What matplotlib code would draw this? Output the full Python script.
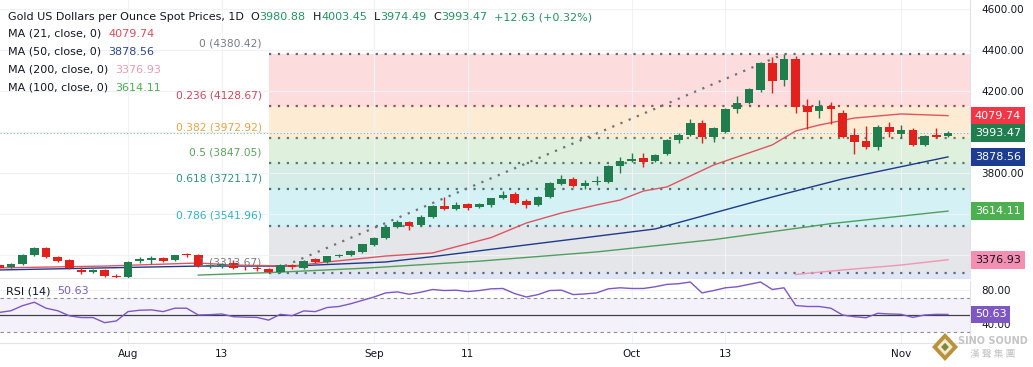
import numpy as np
import matplotlib.pyplot as plt
from matplotlib.patches import Polygon
from matplotlib.transforms import blended_transform_factory

# ---- data (candle index 0 = Aug 1) ----
idx = np.arange(-11, 71)
open_ = [3351, 3342, 3356, 3400, 3434, 3390, 3376, 3327, 3317, 3327, 3296,
         3292, 3371, 3376, 3385, 3376, 3405, 3400, 3346, 3346, 3360,
         3338, 3336, 3332, 3316, 3350, 3338, 3381, 3366, 3395, 3400,
         3414, 3448, 3483, 3536, 3561, 3546, 3585, 3639, 3624, 3649,
         3634, 3644, 3678, 3698, 3663, 3644, 3683, 3746, 3771, 3737,
         3756, 3756, 3834, 3859, 3873, 3858, 3893, 3961, 3985, 4044,
         3976, 4000, 4112, 4141, 4205, 4337, 4254, 4356, 4127, 4102,
         4127, 4093, 3985, 3956, 3927, 4024, 3990, 4010, 3937, 3985,
         3980.88]
high = [3356, 3361, 3405, 3440, 3438, 3395, 3380, 3342, 3333, 3333, 3305,
        3370, 3390, 3395, 3390, 3402, 3412, 3404, 3358, 3362, 3374,
        3345, 3348, 3335, 3354, 3356, 3378, 3384, 3396, 3404, 3424,
        3456, 3489, 3541, 3571, 3566, 3595, 3643, 3683, 3658, 3654,
        3656, 3680, 3710, 3708, 3673, 3687, 3756, 3790, 3780, 3766,
        3785, 3839, 3878, 3897, 3897, 3893, 3968, 3995, 4063, 4058,
        4024, 4117, 4175, 4217, 4342, 4366, 4380.42, 4371, 4161, 4156,
        4146, 4107, 4019, 4029, 4034, 4049, 4034, 4020, 3985, 4020,
        4003.45]
low = [3332, 3336, 3351, 3395, 3385, 3366, 3332, 3307, 3312, 3293, 3283,
       3286, 3361, 3356, 3366, 3372, 3390, 3342, 3335, 3338, 3332,
       3326, 3322, 3313.67, 3314, 3334, 3330, 3362, 3360, 3390, 3395,
       3410, 3445, 3479, 3530, 3522, 3541, 3580, 3619, 3620, 3620,
       3629, 3634, 3673, 3649, 3629, 3639, 3680, 3741, 3732, 3722,
       3742, 3751, 3800, 3854, 3829, 3854, 3888, 3946, 3980, 3946,
       3951, 3995, 4092, 4136, 4195, 4190, 4225, 4093, 4015, 4068,
       4039, 3970, 3893, 3917, 3912, 3976, 3971, 3932, 3932, 3971,
       3974.49]
close = [3337, 3356, 3400, 3434, 3390, 3371, 3337, 3317, 3327, 3298, 3292,
         3366, 3381, 3385, 3371, 3400, 3398, 3346, 3351, 3356, 3338,
         3336, 3333, 3316, 3350, 3340, 3371, 3366, 3394, 3398, 3419,
         3453, 3483, 3537, 3561, 3541, 3585, 3639, 3624, 3644, 3629,
         3649, 3678, 3693, 3654, 3644, 3683, 3751, 3771, 3737, 3751,
         3761, 3834, 3859, 3868, 3854, 3888, 3961, 3985, 4044, 3976,
         4020, 4112, 4141, 4210, 4337, 4249, 4356, 4122, 4098, 4127,
         4112, 3976, 3951, 3927, 4024, 4000, 4010, 3937, 3980, 3976,
         3993.47]

rsi = [53, 55, 61, 65, 58, 55, 49, 47, 47, 41, 43,
       54, 55.6, 56, 54, 58, 58, 50, 50.4, 51.2, 48,
       47.5, 47.2, 44, 50.8, 49.2, 54.8, 54, 58.8, 60, 63.2,
       67.2, 71.2, 76, 77.2, 74.4, 76.8, 80, 78.8, 79.2, 77.6,
       78.8, 80.8, 81.2, 75.2, 71.2, 74, 78.8, 79.2, 74, 74.8,
       76, 80.8, 82, 81.2, 81.2, 83.2, 86, 86.8, 88.8, 76,
       78.8, 82, 83.2, 86, 88.8, 80, 82, 61.2, 60, 60,
       58, 50, 48, 46.8, 52, 51.2, 50.8, 47.2, 50, 50.8,
       50.63]

ma21_x = [-11, -2, 6, 9, 14, 17, 22, 26, 31, 34, 37, 40, 42, 44, 46, 50, 55, 57, 59, 62, 66, 70]
ma21_y = [3337, 3346, 3361, 3351, 3346, 3366, 3395, 3410, 3485, 3556, 3605, 3644, 3668, 3712,
          3732, 3839, 3937, 4005, 4034, 4068, 4088, 4079.74]
ma50_x = [-11, 6, 14, 22, 26, 34, 45, 55, 61, 70]
ma50_y = [3327, 3346, 3346, 3366, 3392, 3449, 3527, 3683, 3771, 3878.56]
ma100_x = [6, 12, 20, 30, 40, 50, 60, 70]
ma100_y = [3302, 3314, 3335, 3370, 3415, 3475, 3553, 3614.11]
ma200_x = [57, 61, 66, 70]
ma200_y = [3305, 3327, 3351, 3376.93]

fib_levels = [0, 0.236, 0.382, 0.5, 0.618, 0.786, 1]
fib_prices = [4380.42, 4128.67, 3972.92, 3847.05, 3721.17, 3541.96, 3313.67]
fib_start, fib_end = 12, 56

date_pos = [0, 8, 21, 29, 43, 51, 66]
date_lab = ['Aug', '13', 'Sep', '11', 'Oct', '13', 'Nov']

# ---- colours ----
GREEN = '#1f7d4e'
RED = '#e3211c'
DARK = '#131722'
fib_fill = ['#fddcde', '#fdebd4', '#dff0dd', '#d6ece6', '#d4f1f5', '#e5e6e9']
fib_txt = ['#787b86', '#d9435a', '#e8a23a', '#5aa35d', '#2a9482', '#2bb3c8', '#787b86']
fib_line = ['#5f6b70', '#9b4c55', '#6b7a70', '#5b7768', '#4d7472', '#4b7780', '#5f6b70']

W, H = 1033, 367
def fx(px): return px / W
def fy(py): return 1 - py / H

fig = plt.figure(figsize=(W / 100, H / 100), dpi=100)
ax = fig.add_axes([0, fy(278), fx(970), 278 / H])
rax = fig.add_axes([0, fy(343), fx(970), (343 - 281) / H])

xlim = (-10.93, 71.88)
for a in (ax, rax):
    a.set_xlim(*xlim)
    for s in a.spines.values():
        s.set_color('#e0e3eb')
        s.set_linewidth(0.8)
    a.spines['left'].set_visible(False)
    a.spines['top'].set_visible(False)
    a.set_xticks(date_pos)
    a.grid(True, color='#f0f2f6', lw=0.8, zorder=0)
    a.set_axisbelow(True)
    a.yaxis.tick_right()
    a.tick_params(length=0, labelsize=7.5, labelcolor=DARK, pad=8)
ax.set_ylim(3287.8, 4643.9)
ax.set_xticklabels([])
ax.set_yticks([3400, 3600, 3800, 4000, 4200, 4400, 4600])
# 4000 and 3600 sit fully behind the price tags on the right
ax.yaxis.set_major_formatter(lambda v, p: '' if v in (3600, 4000) else f'{v:.2f}')

# fibonacci fills, lines, labels
for i in range(len(fib_prices) - 1):
    ax.fill_between([fib_start, 80], fib_prices[i + 1], fib_prices[i],
                    color=fib_fill[i], lw=0, zorder=0.5)
ax.fill_between([fib_start, 80], 3200, fib_prices[-1], color='#dfe6fa', lw=0, zorder=0.5)
for p, c, lv, tc in zip(fib_prices, fib_line, fib_levels, fib_txt):
    ax.plot([fib_start, 80], [p, p], color=c, lw=1.6, ls=(0, (1, 3)), zorder=1)
    ax.annotate(f'{lv:g} ({p:.2f})', xy=(fib_start - 0.6, p), xytext=(0, 7.5),
                textcoords='offset points', ha='right', va='center',
                color=tc, fontsize=7.7, zorder=6)
ax.plot([fib_start, fib_end], [fib_prices[-1], fib_prices[0]], color='#6f7378',
        lw=1.6, ls=(0, (1, 3)), zorder=1)

# current price line
ax.axhline(close[-1], color='#7fb9b3', lw=0.8, ls=(0, (1, 2)), zorder=1)

# moving averages
ax.plot(ma200_x, ma200_y, color='#f095b3', lw=1, zorder=2)
ax.plot(ma100_x, ma100_y, color='#4f9f5e', lw=1, zorder=2)
ax.plot(ma50_x, ma50_y, color='#1e3a8a', lw=1, zorder=2)
ax.plot(ma21_x, ma21_y, color='#e05461', lw=1, zorder=2)

# candles
o, h, l, c = map(np.array, (open_, high, low, close))
col = np.where(c >= o, GREEN, RED)
ax.vlines(idx, l, h, colors=col, lw=1, zorder=3)
ax.bar(idx, np.maximum(np.abs(c - o), 1.5), bottom=np.minimum(o, c), width=0.74,
       color=col, zorder=4)

# price tags
ytr = blended_transform_factory(ax.transAxes, ax.transData)
tags = [(4079.74, '#f23645', 'white'), (3993.47, '#1f7d4e', 'white'),
        (3878.56, '#1c3d91', 'white'), (3614.11, '#4caf50', 'white'),
        (3376.93, '#f48fb1', DARK)]
for v, bg, fg in tags:
    ax.text(1.005, v, f'{v:.2f}', transform=ytr, ha='left', va='center', fontsize=8,
            color=fg, clip_on=False, zorder=10,
            bbox=dict(boxstyle='square,pad=0.35', fc=bg, ec='none'))

# RSI panel
rax.set_ylim(17.06, 90)
rax.set_yticks([40, 80])
rax.yaxis.set_major_formatter(lambda v, p: f'{v:.2f}')
rax.set_xticklabels(date_lab)
rax.tick_params(axis='x', pad=4)
rax.axhspan(30, 70, color='#7e57c2', alpha=0.08, lw=0, zorder=0.5)
rax.axhline(70, color='#8a8d96', lw=0.8, ls=(0, (3, 3)))
rax.axhline(30, color='#8a8d96', lw=0.8, ls=(0, (3, 3)))
rax.axhline(50, color='#3d3f4a', lw=0.9)
rax.plot(idx, rsi, color='#7e57c2', lw=1, zorder=3)
rtr = blended_transform_factory(rax.transAxes, rax.transData)
rax.text(1.005, 50.63, '50.63', transform=rtr, ha='left', va='center', fontsize=8,
         color='white', clip_on=False, zorder=10,
         bbox=dict(boxstyle='square,pad=0.35', fc='#7e57c2', ec='none'))

# header texts
r = fig.canvas.get_renderer()
def chain(x, y, parts, size=8):
    xf = fx(x)
    for s, colr in parts:
        t = fig.text(xf, fy(y), s, color=colr, fontsize=size, ha='left', va='center')
        xf += t.get_window_extent(renderer=r).width / fig.bbox.width

HG = '#22945e'
chain(8, 17, [('Gold US Dollars per Ounce Spot Prices, 1D', DARK), ('  O', DARK), ('3980.88', HG),
              ('  H', DARK), ('4003.45', HG), ('  L', DARK), ('3974.49', HG),
              ('  C', DARK), ('3993.47', HG), ('  +12.63 (+0.32%)', HG)])
chain(8, 34, [('MA (21, close, 0)  ', DARK), ('4079.74', '#e04a5a')])
chain(8, 52, [('MA (50, close, 0)  ', DARK), ('3878.56', '#2a4a8a')])
chain(8, 70, [('MA (200, close, 0)  ', DARK), ('3376.93', '#e89ab0')])
chain(8, 88, [('MA (100, close, 0)  ', DARK), ('3614.11', '#4caf50')])
chain(6, 291, [('RSI (14)  ', DARK), ('50.63', '#7e57c2')])

# watermark logo
lax = fig.add_axes([fx(932), fy(361), fx(26), 28 / H])
lax.set_xlim(-1, 1)
lax.set_ylim(-1, 1)
lax.axis('off')
lax.add_patch(Polygon([(0, 1), (1, 0), (0, -1), (-1, 0)], fc='#b8923c', ec='none'))
lax.add_patch(Polygon([(0, .6), (.6, 0), (0, -.6), (-.6, 0)], fc='#f3ead2', ec='none'))
lax.add_patch(Polygon([(0, .3), (.3, 0), (0, -.3), (-.3, 0)], fc='#7a8a3a', ec='none'))
fig.text(fx(993), fy(341), 'SINO SOUND', fontsize=7, fontweight='bold', color='#c4c4c4',
         ha='center', va='center')
fig.text(fx(993), fy(354), '漢 聲 集 團', fontsize=7, color='#c4c4c4', ha='center', va='center',
         family=['Noto Sans CJK TC', 'DejaVu Sans'])

fig.savefig('out.png', dpi=100)
